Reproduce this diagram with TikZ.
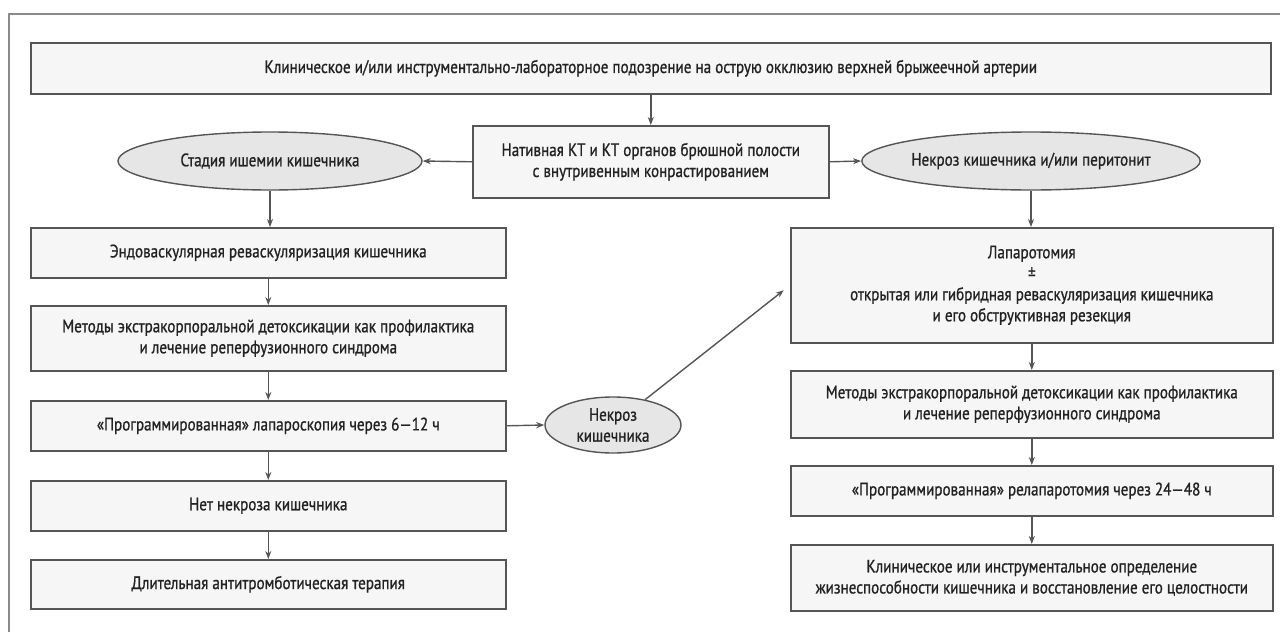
\documentclass[tikz,border=0pt]{standalone}
\usepackage{fontspec}
\setmainfont[FakeStretch=0.84,FakeBold=0.9]{PT Sans}
\usetikzlibrary{shapes.geometric,arrows.meta}
\definecolor{linegrey}{HTML}{555555}
\definecolor{framegrey}{HTML}{8A8A8A}
\definecolor{boxfill}{HTML}{F6F6F6}
\definecolor{ellfill}{HTML}{E6E6E6}
\definecolor{txt}{HTML}{222222}
\tikzset{
  every node/.style={font=\fontsize{18}{21}\selectfont, text=txt},
  flowbox/.style={draw=linegrey, line width=1.6pt, fill=boxfill, rectangle, align=center, inner sep=0pt, anchor=north west},
  flowell/.style={draw=linegrey, line width=1.4pt, fill=ellfill, ellipse, align=center, inner sep=0pt},
  conn/.style={draw=linegrey, line width=1.4pt, -{Stealth[length=8pt,width=6pt]}},
}
\begin{document}
\begin{tikzpicture}[x=1pt,y=-1pt]
\useasboundingbox (0,0) rectangle (1280,632);
% outer frame
\draw[framegrey, line width=2.2pt] (9,632) -- (9,14) -- (1280,14);
% nodes
\node[flowbox, minimum width=1240pt, minimum height=51pt] (top) at (30,42) {Клиническое и/или инструментально-лабораторное подозрение на острую окклюзию верхней брыжеечной артерии};
\node[flowbox, minimum width=356pt, minimum height=72pt] (mid) at (472,125) {Нативная КТ и КТ органов брюшной полости\\с внутривенным конрастированием};
\node[flowell, minimum width=304pt, minimum height=58pt] (le) at (270,161) {Стадия ишемии кишечника};
\node[flowell, minimum width=300pt, minimum height=58pt] (re) at (1031,161) {Некроз кишечника и/или перитонит};
% left column
\node[flowbox, minimum width=475pt, minimum height=50pt] (l1) at (30,227) {Эндоваскулярная реваскуляризация кишечника};
\node[flowbox, minimum width=475pt, minimum height=65pt] (l2) at (30,305) {Методы экстракорпоральной детоксикации как профилактика\\и лечение реперфузионного синдрома};
\node[flowbox, minimum width=475pt, minimum height=50pt] (l3) at (30,400) {«Программированная» лапароскопия через 6—12 ч};
\node[flowbox, minimum width=475pt, minimum height=50pt] (l4) at (30,480) {Нет некроза кишечника};
\node[flowbox, minimum width=475pt, minimum height=49pt] (l5) at (30,559) {Длительная антитромботическая терапия};
% necrosis ellipse
\node[flowell, minimum width=136pt, minimum height=56pt] (nec) at (613,425) {Некроз\\кишечника};
% right column
\node[flowbox, minimum width=482pt, minimum height=115pt] (r1) at (790,227) {Лапаротомия\\±\\открытая или гибридная реваскуляризация кишечника\\и его обструктивная резекция};
\node[flowbox, minimum width=482pt, minimum height=67pt] (r2) at (790,370) {Методы экстракорпоральной детоксикации как профилактика\\и лечение реперфузионного синдрома};
\node[flowbox, minimum width=482pt, minimum height=50pt] (r3) at (790,465) {«Программированная» релапаротомия через 24—48 ч};
\node[flowbox, minimum width=482pt, minimum height=66pt] (r4) at (790,544) {Клиническое или инструментальное определение\\жизнеспособности кишечника и восстановление его целостности};
% connectors
\draw[conn] (top.south -| mid.north) -- (mid.north);
\draw[conn] (mid.west) -- (le.east);
\draw[conn] (mid.east) -- (re.west);
\draw[conn] (le.south) -- (le.south |- l1.north);
\draw[conn] (l1.south) -- (l2.north);
\draw[conn] (l2.south) -- (l3.north);
\draw[conn] (l3.south) -- (l4.north);
\draw[conn] (l4.south) -- (l5.north);
\draw[conn] (l3.east) -- (nec.west);
\draw[conn, shorten >=8pt] (nec) -- (r1.west);
\draw[conn] (re.south) -- (re.south |- r1.north);
\draw[conn] (r1.south) -- (r2.north);
\draw[conn] (r2.south) -- (r3.north);
\draw[conn] (r3.south) -- (r4.north);
\end{tikzpicture}
\end{document}
